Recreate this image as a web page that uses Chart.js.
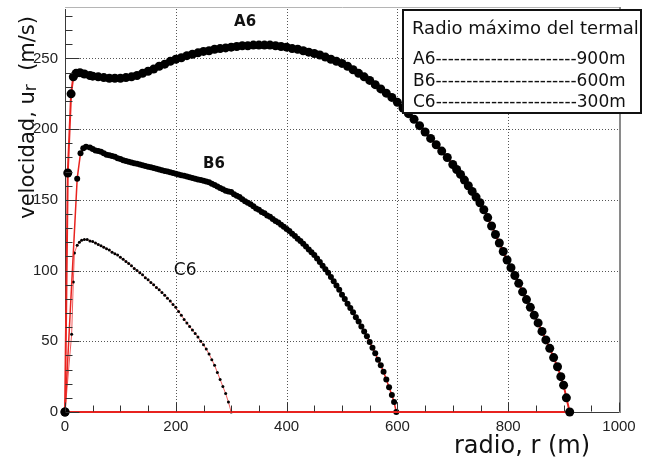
<!DOCTYPE html>
<html lang="es">
<head>
  <meta charset="UTF-8">
  <title>Velocidad radial del termal</title>
  <script src="https://cdn.jsdelivr.net/npm/chart.js"></script>
  <style>
    html, body { margin: 0; padding: 0; background: #fff; }
    #wrap { width: 645px; height: 460px; }
  </style>
</head>
<body>
  <div id="wrap"><canvas id="grafico" width="645" height="460"></canvas></div>

  <script>
    // radio r (m) y velocidad ur (m/s)
    const radioA6 = [
      0, 5, 11, 15, 20, 27, 35, 45,
      50, 60, 70, 80, 90, 100, 110, 120, 130, 140,
      150, 160, 170, 180, 190, 200, 210, 220, 230, 240,
      250, 260, 270, 280, 290, 300, 310, 320, 330, 340,
      350, 360, 370, 380, 390, 400, 410, 420, 430, 440,
      450, 460, 470, 480, 490, 500, 510, 520, 530, 540,
      550, 560, 570, 580, 590, 600, 610, 620, 630, 640,
      650, 660, 670, 680, 690, 700,
      707, 714, 721, 728, 735, 742, 749, 756, 763, 770,
      777, 784, 791, 798, 805, 812, 819, 826, 833, 840,
      847, 854, 861, 868, 875, 882, 889, 895, 900, 905,
      911, 0
    ];
    const velA6 = [
      0, 169, 225, 237, 239.5, 240, 239, 238,
      237.5, 237, 236.5, 236, 236, 236, 236.5, 237, 238, 239.5,
      241, 242.5, 244.5, 246, 248, 249.5, 250.5, 252, 253, 254,
      255, 255.5, 256.5, 257, 257.5, 258, 258.5, 259, 259, 259.5,
      259.5, 259.5, 259.5, 259, 258.5, 258, 257, 256.5, 255.5, 254.5,
      253.5, 252.5, 251, 249.5, 248, 246.5, 244.5, 242, 239.5, 237,
      234.5, 231.5, 228.5, 225.5, 222.5, 219, 215, 211, 207, 202.5,
      198, 193.5, 189, 184.5, 180, 175,
      171.5, 168, 164, 160, 156, 152, 148, 143, 137.5, 131.5,
      125.5, 119.5, 113.5, 107.5, 102, 96.5, 91, 85, 79.5, 74,
      68.5, 63, 57, 51, 45, 38.5, 32, 25, 19, 10,
      0, 0
    ];

    const radioB6 = [
      0, 22, 28, 33, 38,
      45, 50, 55, 60, 65, 70, 75, 80, 85, 90,
      95, 100, 105, 110, 115, 120, 125, 130, 135, 140,
      145, 150, 155, 160, 165, 170, 175, 180, 185, 190,
      195, 200, 205, 210, 215, 220, 225, 230, 235, 240,
      245, 250, 255, 260, 265, 270, 275, 280, 285, 290,
      295, 300, 305, 310, 315, 320, 325, 330, 335, 340,
      345, 350, 355, 360, 365, 370, 375, 380, 385, 390,
      395, 400, 405, 410, 415, 420, 425, 430, 435, 440,
      445, 450, 455, 460, 465, 470, 475, 480, 485, 490,
      495, 500, 505, 510, 515, 520, 525, 530, 535, 540,
      545, 550, 555, 560, 565, 570, 575, 580, 585, 590,
      594, 598, 0
    ];
    const velB6 = [
      0, 165, 183, 186.5, 187.5,
      187, 186, 185, 184.5, 184, 183, 182, 181.5, 181, 180.5,
      179.5, 179, 178, 177.5, 177, 176.5, 176, 175.5, 175, 174.5,
      174, 173.5, 173, 172.5, 172, 171.5, 171, 170.5, 170, 169.5,
      169, 168.5, 168, 167.5, 167, 166.5, 166, 165.5, 165, 164.5,
      164, 163.5, 163, 162.5, 161.5, 160.5, 159.5, 158.5, 157.5, 156.5,
      156, 155.5, 154, 153, 152, 150.5, 149, 148, 147, 145.5,
      144, 143, 141.5, 140.5, 139, 138, 136.5, 135, 134, 132.5,
      131, 129.5, 128, 126, 124.5, 122.5, 121, 119, 117, 115,
      113, 111, 108.5, 106, 103.5, 101, 98.5, 95.5, 92.5, 89.5,
      86.5, 83, 80, 76.5, 73.5, 70.5, 67, 64, 60.5, 57,
      53.5, 49.5, 45.5, 41.5, 37, 33, 28.5, 23, 17.5, 12,
      7, 0, 0
    ];

    const radioC6 = [
      0, 12, 15, 17, 22, 26, 30, 35, 40, 45,
      50, 55, 60, 65, 70, 75, 80, 85, 90, 95,
      100, 105, 110, 115, 120, 125, 130, 135, 140, 145,
      150, 155, 160, 165, 170, 175, 180, 185, 190, 195,
      200, 205, 210, 215, 220, 225, 230, 235, 240, 245,
      250, 255, 260, 265, 270, 275, 280, 285, 290, 295,
      300, 0
    ];
    const velC6 = [
      0, 55, 92, 112.5, 118, 120, 121.5, 122, 122, 121,
      120.5, 119.5, 118.5, 117.5, 116.5, 115.5, 114.5, 113, 112, 111,
      109.5, 108, 106.5, 105, 103.5, 101.5, 100, 98.5, 97, 95,
      93.5, 91.5, 90, 88, 86.5, 84.5, 82.5, 80.5, 78.5, 76,
      74, 71, 68.5, 65.5, 63, 60.5, 58, 55.5, 53, 50,
      47.5, 44.5, 41, 37, 33, 28, 23, 18, 13, 7,
      0, 0
    ];

    const seriesNombres = ['A6', 'B6', 'C6'];
    const radioMaximo = ['900m', '600m', '300m'];
    const xTicks = [0, 200, 400, 600, 800, 1000];
    const yTicks = [0, 50, 100, 150, 200, 250];
    // marcas menores
    const yMenores = [10, 20, 30, 40, 60, 70, 80, 90, 110, 120, 130, 140, 160, 170, 180, 190, 210, 220, 230, 240, 260, 270, 280];
    const xMenores = [50, 100, 150, 250, 300, 350, 450, 500, 550, 650, 700, 750, 850, 900, 950];

    // donde van los rotulos A6 / B6 / C6 (coordenadas de datos)
    const rotulos = {
      A6: { r: 325, u: 276, font: 'bold 15px "DejaVu Sans"' },
      B6: { r: 269, u: 175, font: 'bold 15px "DejaVu Sans"' },
      C6: { r: 217, u: 100, font: '17px "DejaVu Sans"' }
    };

    function puntos(rs, us) {
      return rs.map((r, i) => ({ x: r, y: us[i] }));
    }

    const ROJO = '#e8231f';

    // rejilla punteada y marco (debajo de las series)
    const rejilla = {
      id: 'rejilla',
      beforeDatasetsDraw(chart) {
        const g = chart.ctx;
        const a = chart.chartArea;
        const sx = chart.scales.x;
        const sy = chart.scales.y;
        const izq = Math.round(a.left) + 0.5;
        const abajo = Math.round(a.bottom) + 0.5;

        g.save();
        g.lineWidth = 1;
        g.strokeStyle = '#555';
        g.setLineDash([1, 2]);
        g.beginPath();
        xTicks.slice(1, -1).forEach(v => {
          const px = Math.round(sx.getPixelForValue(v)) + 0.5;
          g.moveTo(px, a.top); g.lineTo(px, a.bottom);
        });
        yTicks.slice(1).forEach(v => {
          const py = Math.round(sy.getPixelForValue(v)) + 0.5;
          g.moveTo(a.left, py); g.lineTo(a.right, py);
        });
        g.stroke();
        g.setLineDash([]);

        // marco gris arriba y a la derecha, ejes oscuros
        g.strokeStyle = '#b5b5b5';
        g.beginPath();
        g.moveTo(a.left, a.top - 1.5); g.lineTo(a.right + 1, a.top - 1.5);
        g.stroke();
        g.strokeStyle = '#8a8a8a';
        g.lineWidth = 2;
        g.beginPath();
        g.moveTo(a.right + 1, a.top - 2); g.lineTo(a.right + 1, a.bottom + 1);
        g.stroke();
        g.strokeStyle = '#3a3a3a';
        g.lineWidth = 1;
        g.beginPath();
        g.moveTo(izq, a.top); g.lineTo(izq, abajo); g.lineTo(a.right, abajo);
        g.stroke();
        g.restore();
      }
    };

    const textos = {
      id: 'textos',
      afterDatasetsDraw(chart) {
        const g = chart.ctx;
        const a = chart.chartArea;
        const sx = chart.scales.x;
        const sy = chart.scales.y;
        const izq = Math.round(a.left) + 0.5;
        const abajo = Math.round(a.bottom) + 0.5;
        g.save();

        // marcas mayores y menores, hacia dentro
        g.strokeStyle = '#333';
        g.lineWidth = 1;
        g.beginPath();
        yTicks.forEach(v => {
          const py = Math.round(sy.getPixelForValue(v)) + 0.5;
          g.moveTo(izq, py); g.lineTo(izq + 14, py);
        });
        yMenores.forEach(v => {
          const py = Math.round(sy.getPixelForValue(v)) + 0.5;
          g.moveTo(izq, py); g.lineTo(izq + 7, py);
        });
        xTicks.forEach(v => {
          const px = Math.round(sx.getPixelForValue(v)) + 0.5;
          g.moveTo(px, abajo - 1); g.lineTo(px, abajo - 10);
        });
        xMenores.forEach(v => {
          const px = Math.round(sx.getPixelForValue(v)) + 0.5;
          g.moveTo(px, abajo - 1); g.lineTo(px, abajo - 7);
        });
        g.stroke();

        g.fillStyle = '#111';
        g.textAlign = 'center';
        g.textBaseline = 'middle';
        seriesNombres.forEach(n => {
          const e = rotulos[n];
          g.font = e.font;
          g.fillText(n, sx.getPixelForValue(e.r), sy.getPixelForValue(e.u));
        });

        // cuadro "Radio maximo del termal"
        g.fillStyle = '#fff';
        g.fillRect(403, 10, 238, 103);
        g.strokeStyle = '#111';
        g.lineWidth = 2;
        g.strokeRect(403, 10, 238, 103);
        g.fillStyle = '#111';
        g.textAlign = 'left';
        g.textBaseline = 'alphabetic';
        g.font = '18px "DejaVu Sans"';
        g.fillText('Radio máximo del termal', 412, 34);
        g.font = '17px "DejaVu Sans"';
        seriesNombres.forEach((n, i) => {
          let guiones = '';
          while (g.measureText(n + guiones + '-' + radioMaximo[i]).width <= 216) guiones += '-';
          g.fillText(n + guiones + radioMaximo[i], 413, 64 + i * 21.5);
        });
        g.restore();
      },
      afterDraw(chart) {
        const g = chart.ctx;
        g.save();
        g.fillStyle = '#111';
        g.textBaseline = 'alphabetic';
        g.textAlign = 'left';

        // titulo eje y (girado)
        const partes = [['velocidad, u', 21, 0], ['r', 17, 2], ['  (m/s)', 21, 0]];
        let total = 0;
        partes.forEach(p => {
          g.font = p[1] + 'px "DejaVu Sans"';
          total += g.measureText(p[0]).width;
        });
        g.translate(34, 16 + total);
        g.rotate(-Math.PI / 2);
        let pos = 0;
        partes.forEach(p => {
          g.font = p[1] + 'px "DejaVu Sans"';
          g.fillText(p[0], pos, p[2]);
          pos += g.measureText(p[0]).width;
        });
        g.setTransform(1, 0, 0, 1, 0, 0);

        // titulo eje x
        g.font = '24px "DejaVu Sans"';
        g.fillText('radio, r (m)', 454, 453);
        g.restore();
      }
    };

    function serie(nombre, rs, us, radio, ancho, colorLinea) {
      return {
        label: nombre,
        data: puntos(rs, us),
        showLine: true,
        borderColor: colorLinea,
        borderWidth: ancho,
        pointRadius: radio,
        pointBackgroundColor: '#000',
        pointBorderColor: '#000',
        pointBorderWidth: 0,
        pointHoverRadius: radio,
        tension: 0,
        clip: false
      };
    }

    new Chart(document.getElementById('grafico'), {
      type: 'scatter',
      data: {
        datasets: [
          serie('A6', radioA6, velA6, 4.5, 2, ROJO),
          serie('B6', radioB6, velB6, 3, 1.5, ROJO),
          serie('C6', radioC6, velC6, 1.5, 1, 'rgba(232,40,40,0.75)')
        ]
      },
      options: {
        responsive: false,
        animation: false,
        devicePixelRatio: 1,
        layout: { padding: { top: 9, right: 26, left: 0, bottom: 0 } },
        plugins: {
          legend: { display: false },
          tooltip: { enabled: false }
        },
        scales: {
          x: {
            type: 'linear',
            min: 0,
            max: 1000,
            afterBuildTicks: s => { s.ticks = xTicks.map(v => ({ value: v })); },
            afterFit: s => { s.height = 48; s.paddingLeft = 0; s.paddingRight = 0; },
            grid: { display: false, drawTicks: false },
            border: { display: false },
            ticks: {
              font: { family: 'Liberation Sans', size: 15 },
              color: '#222',
              padding: 6,
              maxRotation: 0,
              autoSkip: false,
              callback: v => String(v)
            }
          },
          y: {
            type: 'linear',
            min: 0,
            max: 285,
            afterBuildTicks: s => { s.ticks = yTicks.map(v => ({ value: v })); },
            afterFit: s => { s.width = 65; s.paddingTop = 0; s.paddingBottom = 0; },
            grid: { display: false, drawTicks: false },
            border: { display: false },
            ticks: {
              font: { family: 'Liberation Sans', size: 15 },
              color: '#222',
              padding: 7,
              autoSkip: false,
              callback: v => String(v)
            }
          }
        }
      },
      plugins: [rejilla, textos]
    });
  </script>
</body>
</html>
